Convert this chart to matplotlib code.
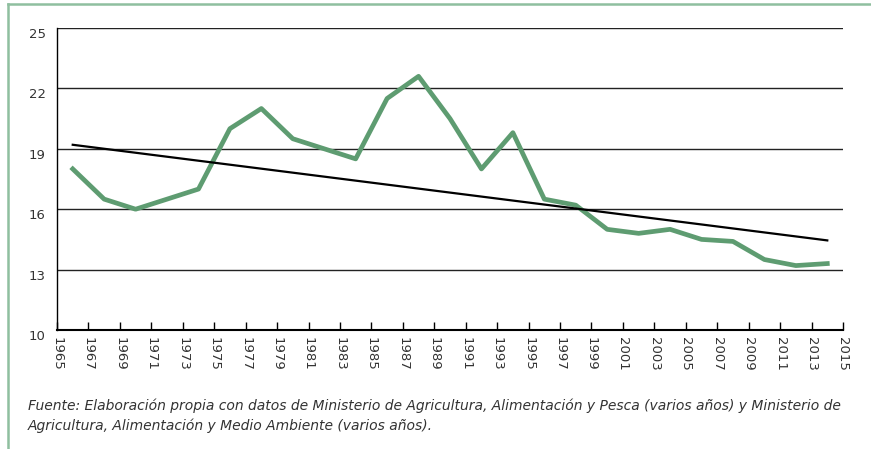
import numpy as np
import matplotlib.pyplot as plt
import matplotlib.transforms as mtransforms
from matplotlib.lines import Line2D

plt.rcParams['font.family'] = ['DejaVu Sans']

# datos (cada dos años)
years = [1966, 1968, 1970, 1972, 1974, 1976, 1978, 1980, 1982, 1984,
         1986, 1988, 1990, 1992, 1994, 1996, 1998, 2000, 2002, 2004,
         2006, 2008, 2010, 2012, 2014]
values = [18.0, 16.5, 16.0, 16.5, 17.0, 20.0, 21.0, 19.5, 19.0, 18.5,
          21.5, 22.6, 20.5, 18.0, 19.8, 16.5, 16.2, 15.0, 14.8, 15.0,
          14.5, 14.4, 13.5, 13.2, 13.3]
trend_years = [1966, 2014]
trend_values = [19.2, 14.45]
xtick_labels = list(range(1965, 2016, 2))
ytick_labels = [10, 13, 16, 19, 22, 25]

caption = ("Fuente: Elaboración propia con datos de Ministerio de Agricultura, Alimentación y Pesca (varios años) y Ministerio de\n"
           "Agricultura, Alimentación y Medio Ambiente (varios años).")

green = '#5e9c71'

fig = plt.figure(figsize=(8.71, 4.49), dpi=100)
ax = fig.add_axes([57/871, 1-330/449, (843-57)/871, (330-28)/449])

ax.plot(years, values, color=green, lw=3.4, zorder=3)
ax.plot(trend_years, trend_values, color='black', lw=1.6, zorder=4)

ax.set_xlim(1965, 2015)
ax.set_ylim(10, 25)
ax.set_yticks(ytick_labels)
ax.set_xticks(xtick_labels)
ax.set_xticklabels([str(y) for y in xtick_labels], rotation=270)
ax.grid(axis='y', color='#222222', lw=1.0)
ax.set_axisbelow(True)

for s in ['top', 'right']:
    ax.spines[s].set_visible(False)
ax.spines['left'].set_linewidth(1.0)
ax.spines['bottom'].set_linewidth(1.5)
ax.tick_params(axis='y', length=0, pad=8, labelsize=9.5, labelcolor='#333333')
ax.tick_params(axis='x', direction='in', length=6, width=1.0, pad=5,
               labelsize=9.5, labelcolor='#333333')

# etiquetas del eje y algo más abajo, como en el original
offset = mtransforms.ScaledTranslation(0, -5/100, fig.dpi_scale_trans)
for lbl in ax.get_yticklabels():
    lbl.set_transform(lbl.get_transform() + offset)

fig.text(28/871, 1-416/449, caption, fontsize=10, style='italic', color='#333333',
         ha='left', va='center', linespacing=1.45)

# marco verde
fig.add_artist(Line2D([8/871, 1], [1-4/449, 1-4/449], color='#8fbf9f', lw=1.8,
                      transform=fig.transFigure))
fig.add_artist(Line2D([8/871, 8/871], [0, 1-4/449], color='#8fbf9f', lw=1.8,
                      transform=fig.transFigure))

fig.savefig('out.png', dpi=100)
